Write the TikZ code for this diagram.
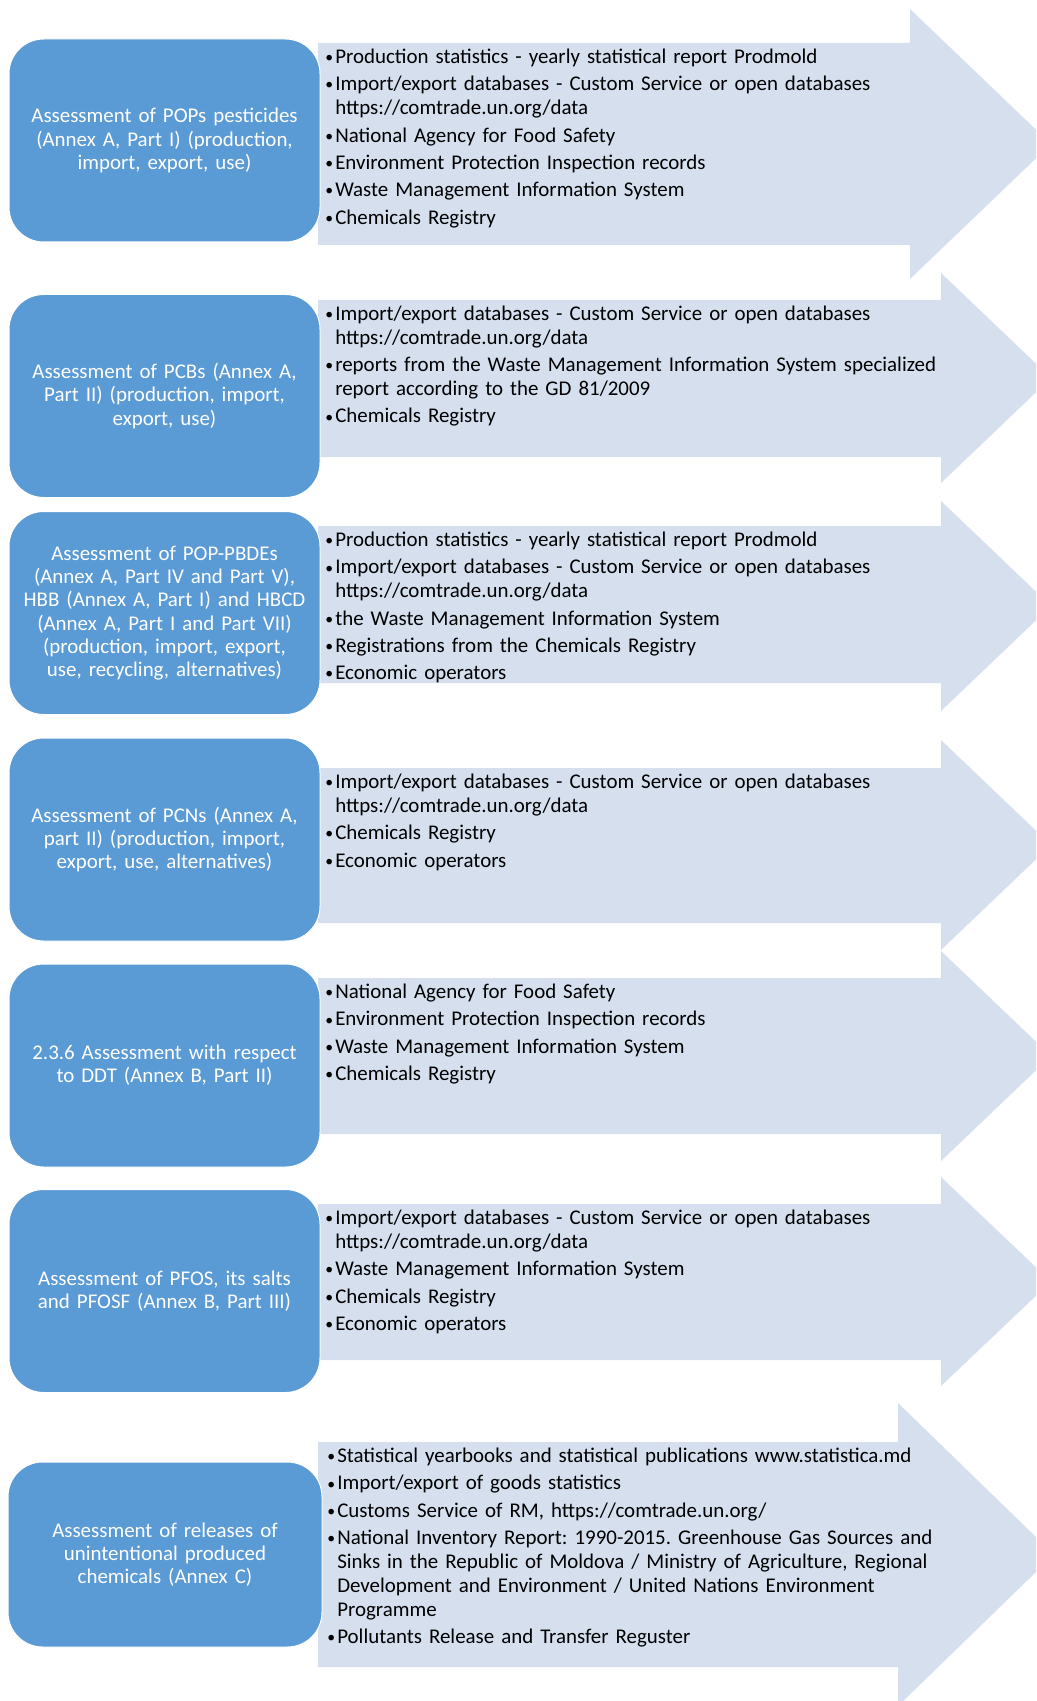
\documentclass[tikz,border=0pt]{standalone}
\usepackage{fontspec}
\setmainfont{Carlito}
\usepackage{tikz}

\definecolor{boxblue}{RGB}{91,155,213}
\definecolor{bandblue}{RGB}{213,223,238}
\frenchspacing
\newcommand{\itm}{\par\hangindent=7.5pt\hangafter=1\noindent
  \makebox[7.5pt][l]{\raisebox{0.7pt}{\scalebox{0.75}{\textbullet}}}\strut}

\begin{document}
\begin{tikzpicture}
        [x=0.75pt, y=-0.75pt,
        box/.style={rectangle, rounded corners=26pt, fill=boxblue, draw=white, line width=0.75pt,
          text=white, minimum width=233.25pt, minimum height=152.25pt, text width=230pt,
          align=center, inner sep=0pt, font=\fontsize{15.7}{17.5}\selectfont},
        band/.style={fill=bandblue},
        list/.style={anchor=north west, inner sep=0pt, text width=520pt, align=left,
          font={\fontsize{15.7}{17.9}\selectfont\setlength{\parskip}{2.6pt}}}]
        \useasboundingbox (0,0) rectangle (1036,1701);
        \clip (0,0) rectangle (1036,1701);

        \fill[band] (318,43) -- (910,43) -- (910,9) -- (1051,144) -- (910,279) -- (910,245) -- (318,245) -- cycle;
        \fill[band] (318,300) -- (941,300) -- (941,273) -- (1051,378) -- (941,483) -- (941,457) -- (318,457) -- cycle;
        \fill[band] (318,526) -- (941,526) -- (941,501) -- (1051,606) -- (941,711) -- (941,683) -- (318,683) -- cycle;
        \fill[band] (318,768) -- (941,768) -- (941,740) -- (1051,845) -- (941,950) -- (941,923) -- (318,923) -- cycle;
        \fill[band] (318,978) -- (941,978) -- (941,951) -- (1051,1056) -- (941,1161) -- (941,1134) -- (318,1134) -- cycle;
        \fill[band] (318,1204) -- (941,1204) -- (941,1177) -- (1051,1281.5) -- (941,1386) -- (941,1360) -- (318,1360) -- cycle;
        \fill[band] (318,1442) -- (898,1442) -- (898,1403) -- (1054,1554.5) -- (898,1706) -- (898,1667) -- (318,1667) -- cycle;

        \node (pops) at (164.5,140.5) [box]
           {Assessment of POPs pesticides\\(Annex A, Part I) (production,\\import, export, use)};
        \node (popslist) at (325,36) [list]
           {\itm Production statistics - yearly statistical report Prodmold
            \itm Import/export databases - Custom Service or open databases\newline https://comtrade.un.org/data
            \itm National Agency for Food Safety
            \itm Environment Protection Inspection records
            \itm Waste Management Information System
            \itm Chemicals Registry};

        \node (pcb) at (164.5,396) [box]
           {Assessment of PCBs (Annex A,\\Part II) (production, import,\\export, use)};
        \node (pcblist) at (325,293) [list]
           {\itm Import/export databases - Custom Service or open databases\newline https://comtrade.un.org/data
            \itm reports from the Waste Management Information System specialized\newline report according to the GD 81/2009
            \itm Chemicals Registry};

        \node (pbde) at (164.5,613) [box]
           {Assessment of POP-PBDEs\\(Annex A, Part IV and Part V),\\HBB (Annex A, Part I) and HBCD\\(Annex A, Part I and Part VII)\\(production, import, export,\\use, recycling, alternatives)};
        \node (pbdelist) at (325,519) [list]
           {\itm Production statistics - yearly statistical report Prodmold
            \itm Import/export databases - Custom Service or open databases\newline https://comtrade.un.org/data
            \itm the Waste Management Information System
            \itm Registrations from the Chemicals Registry
            \itm Economic operators};

        \node (pcn) at (164.5,839.5) [box]
           {Assessment of PCNs (Annex A,\\part II) (production, import,\\export, use, alternatives)};
        \node (pcnlist) at (325,761) [list]
           {\itm Import/export databases - Custom Service or open databases\newline https://comtrade.un.org/data
            \itm Chemicals Registry
            \itm Economic operators};

        \node (ddt) at (164.5,1065.5) [box]
           {2.3.6 Assessment with respect\\to DDT (Annex B, Part II)};
        \node (ddtlist) at (325,971) [list]
           {\itm National Agency for Food Safety
            \itm Environment Protection Inspection records
            \itm Waste Management Information System
            \itm Chemicals Registry};

        \node (pfos) at (164.5,1291) [box]
           {Assessment of PFOS, its salts\\and PFOSF (Annex B, Part III)};
        \node (pfoslist) at (325,1197) [list]
           {\itm Import/export databases - Custom Service or open databases\newline https://comtrade.un.org/data
            \itm Waste Management Information System
            \itm Chemicals Registry
            \itm Economic operators};

        \node (upc) at (165,1554.5) [box, minimum width=235.5pt, minimum height=138.75pt]
           {Assessment of releases of\\unintentional produced\\chemicals (Annex C)};
        \node (upclist) at (327,1435) [list]
           {\itm Statistical yearbooks and statistical publications www.statistica.md
            \itm Import/export of goods statistics
            \itm Customs Service of RM, https://comtrade.un.org/
            \itm National Inventory Report: 1990-2015. Greenhouse Gas Sources and\newline Sinks in the Republic of Moldova / Ministry of Agriculture, Regional\newline Development and Environment / United Nations Environment\newline Programme
            \itm Pollutants Release and Transfer Reguster};
     \end{tikzpicture}
\end{document}
